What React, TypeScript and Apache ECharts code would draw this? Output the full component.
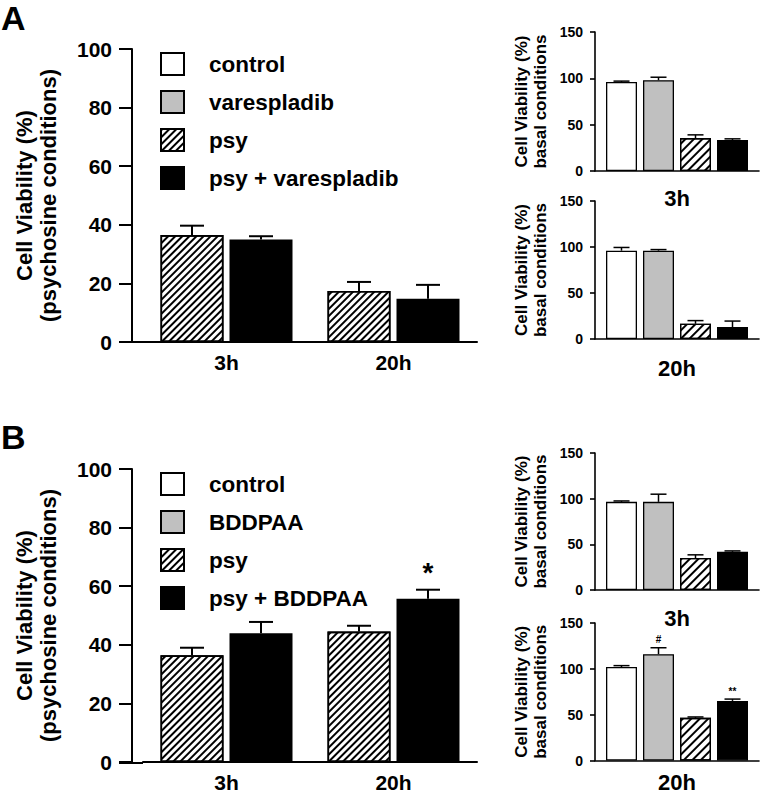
import React, { useEffect, useRef } from 'react';
import * as echarts from 'echarts';

// ---------- data ----------
const mainCategories = ['3h', '20h'];
const smallTopCategory = ['3h'];
const smallBottomCategory = ['20h'];

const legendA = ['control', 'varespladib', 'psy', 'psy + varespladib'];
const legendB = ['control', 'BDDPAA', 'psy', 'psy + BDDPAA'];

// Panel A – psychosine conditions (3h, 20h)
const aMainPsy = [36.5, 17.4];
const aMainPsyErr = [3.2, 3.1];
const aMainCombo = [35.0, 14.8];
const aMainComboErr = [1.1, 4.7];

// Panel A – basal conditions (control, varespladib, psy, psy + varespladib)
const aBasal3h = [96, 98, 35.5, 33.5];
const aBasal3hErr = [1, 3.2, 3.5, 1.2];
const aBasal20h = [96, 96, 16.5, 13];
const aBasal20hErr = [3.5, 1.2, 3.5, 6.5];

// Panel B – psychosine conditions (3h, 20h)
const bMainPsy = [36.4, 44.5];
const bMainPsyErr = [2.6, 2.0];
const bMainCombo = [43.9, 55.7];
const bMainComboErr = [3.9, 3.1];
const bMainComboMarks = ['', '*'];

// Panel B – basal conditions (control, BDDPAA, psy, psy + BDDPAA)
const bBasal3h = [96.5, 96.5, 35, 41.8];
const bBasal3hErr = [1, 8.4, 3.5, 1];
const bBasal20h = [102, 116, 46.5, 65];
const bBasal20hErr = [1.5, 7, 1, 2];
const bBasal20hMarks = ['', '#', '', '**'];

const mainTicks = { min: 0, max: 100, interval: 20 };
const smallTicks = { min: 0, max: 150, interval: 50 };

// ---------- styles ----------
const FONT = '"Liberation Sans", Arial, sans-serif';
const BLACK = '#000000';
const GRAY = '#c0c0c0';
const WHITE = '#ffffff';

const hatchMain = {
  symbol: 'rect',
  symbolSize: 1,
  dashArrayX: [1, 0],
  dashArrayY: [1.4, 3.0],
  rotation: -Math.PI / 4,
  color: BLACK,
};
const hatchSmall = {
  symbol: 'rect',
  symbolSize: 1,
  dashArrayX: [1, 0],
  dashArrayY: [1.8, 3.4],
  rotation: -Math.PI / 4,
  color: BLACK,
};

const MAIN_BAR_W = 63;
const MAIN_GAP = 6;
const SMALL_BAR_W = 31;
const SMALL_GAP = 6;

const styleFor = (kind: string, small: boolean) => {
  const base: any = { borderColor: BLACK, borderWidth: small ? 1.3 : 1.6 };
  if (kind === 'control') return { ...base, color: WHITE };
  if (kind === 'drug') return { ...base, color: GRAY };
  if (kind === 'psy') return { ...base, color: WHITE, decal: small ? hatchSmall : hatchMain };
  return { ...base, color: BLACK };
};

const axisText = (size: number) => ({
  fontSize: size,
  fontWeight: 'bold',
  color: BLACK,
  fontFamily: FONT,
});

function errorSeries(
  idx: number,
  rows: number[][], // [category, slot, value, err]
  nSlots: number,
  barW: number,
  gap: number,
  cap: number,
  lw: number,
  marks: string[],
  markSize: number,
  markGap: number
) {
  return {
    type: 'custom',
    xAxisIndex: idx,
    yAxisIndex: idx,
    silent: true,
    clip: false,
    z: 5,
    encode: { x: 0, y: 2 },
    data: rows,
    renderItem: (params: any, api: any) => {
      const cat = api.value(0);
      const slot = api.value(1);
      const v = api.value(2);
      const e = api.value(3);
      const b = api.coord([cat, v]);
      const t = api.coord([cat, v + e]);
      const x = b[0] + (slot - (nSlots - 1) / 2) * (barW + gap);
      const children: any[] = [
        { type: 'line', shape: { x1: x, y1: b[1], x2: x, y2: t[1] }, style: { stroke: BLACK, lineWidth: lw } },
        { type: 'line', shape: { x1: x - cap / 2, y1: t[1], x2: x + cap / 2, y2: t[1] }, style: { stroke: BLACK, lineWidth: lw } },
      ];
      const m = marks[params.dataIndex];
      if (m) {
        children.push({
          type: 'text',
          style: {
            text: m,
            x,
            y: t[1] - markGap,
            align: 'center',
            verticalAlign: 'bottom',
            fontSize: markSize,
            fontWeight: 'bold',
            fontFamily: FONT,
            fill: BLACK,
          },
        });
      }
      return { type: 'group', children };
    },
  };
}

function buildOption() {
  const grids: any[] = [];
  const xAxes: any[] = [];
  const yAxes: any[] = [];
  const series: any[] = [];

  const addMain = (
    top: number,
    names: string[],
    psy: number[],
    psyErr: number[],
    combo: number[],
    comboErr: number[],
    marks: string[]
  ) => {
    const idx = grids.length;
    grids.push({ left: 143, top, width: 334, height: 293 });
    xAxes.push({
      type: 'category',
      gridIndex: idx,
      data: mainCategories,
      axisLine: { lineStyle: { color: BLACK, width: 2 } },
      axisTick: { show: false },
      axisLabel: { ...axisText(21), margin: 10 },
    });
    yAxes.push({
      type: 'value',
      gridIndex: idx,
      ...mainTicks,
      offset: 11,
      splitLine: { show: false },
      axisLine: { show: true, lineStyle: { color: BLACK, width: 2 } },
      axisTick: { show: true, length: 13, lineStyle: { color: BLACK, width: 2 } },
      axisLabel: { ...axisText(21), margin: 20 },
      name: 'Cell Viability (%)\n(psychosine conditions)',
      nameLocation: 'middle',
      nameGap: 72,
      nameTextStyle: { ...axisText(22), lineHeight: 24 },
    });
    series.push({
      type: 'bar',
      name: names[2],
      xAxisIndex: idx,
      yAxisIndex: idx,
      data: psy,
      barWidth: MAIN_BAR_W,
      barGap: `${(MAIN_GAP / MAIN_BAR_W) * 100}%`,
      itemStyle: styleFor('psy', false),
    });
    series.push({
      type: 'bar',
      name: names[3],
      xAxisIndex: idx,
      yAxisIndex: idx,
      data: combo,
      barWidth: MAIN_BAR_W,
      barGap: `${(MAIN_GAP / MAIN_BAR_W) * 100}%`,
      itemStyle: styleFor('combo', false),
    });
    const rows: number[][] = [];
    const rowMarks: string[] = [];
    psy.forEach((v, i) => {
      rows.push([i, 0, v, psyErr[i]]);
      rowMarks.push('');
    });
    combo.forEach((v, i) => {
      rows.push([i, 1, v, comboErr[i]]);
      rowMarks.push(marks[i] || '');
    });
    series.push(errorSeries(idx, rows, 2, MAIN_BAR_W, MAIN_GAP, 24, 2, rowMarks, 28, 3));
  };

  const addSmall = (
    top: number,
    height: number,
    category: string[],
    labelMargin: number,
    names: string[],
    values: number[],
    errs: number[],
    marks: string[]
  ) => {
    const idx = grids.length;
    grids.push({ left: 595, top, width: 164, height });
    xAxes.push({
      type: 'category',
      gridIndex: idx,
      data: category,
      axisLine: { lineStyle: { color: BLACK, width: 1.6 } },
      axisTick: { show: false },
      axisLabel: { ...axisText(22), margin: labelMargin },
    });
    yAxes.push({
      type: 'value',
      gridIndex: idx,
      ...smallTicks,
      splitLine: { show: false },
      axisLine: { show: true, lineStyle: { color: BLACK, width: 1.6 } },
      axisTick: { show: true, length: 5, lineStyle: { color: BLACK, width: 1.6 } },
      axisLabel: { ...axisText(14), margin: 12 },
      name: 'Cell Viability (%)\nbasal conditions',
      nameLocation: 'middle',
      nameGap: 45,
      nameTextStyle: { ...axisText(17), lineHeight: 19 },
    });
    const kinds = ['control', 'drug', 'psy', 'combo'];
    names.forEach((n, k) => {
      series.push({
        type: 'bar',
        name: n,
        xAxisIndex: idx,
        yAxisIndex: idx,
        data: [values[k]],
        barWidth: SMALL_BAR_W,
        barGap: `${(SMALL_GAP / SMALL_BAR_W) * 100}%`,
        itemStyle: styleFor(kinds[k], true),
      });
    });
    const rows = values.map((v, k) => [0, k, v, errs[k]]);
    series.push(errorSeries(idx, rows, 4, SMALL_BAR_W, SMALL_GAP, 16, 1.5, marks, 10, 3));
  };

  addMain(49, legendA, aMainPsy, aMainPsyErr, aMainCombo, aMainComboErr, ['', '']);
  addSmall(32, 139, smallTopCategory, 16, legendA, aBasal3h, aBasal3hErr, ['', '', '', '']);
  addSmall(201, 138, smallBottomCategory, 18, legendA, aBasal20h, aBasal20hErr, ['', '', '', '']);
  addMain(469, legendB, bMainPsy, bMainPsyErr, bMainCombo, bMainComboErr, bMainComboMarks);
  addSmall(453, 137, smallTopCategory, 17, legendB, bBasal3h, bBasal3hErr, ['', '', '', '']);
  addSmall(623, 137.5, smallBottomCategory, 11, legendB, bBasal20h, bBasal20hErr, bBasal20hMarks);

  const legendBase = {
    orient: 'vertical',
    left: 160,
    padding: 0,
    itemWidth: 23,
    itemHeight: 22,
    itemGap: 14,
    icon: 'rect',
    selectedMode: false,
    textStyle: { ...axisText(22.5), lineHeight: 22, padding: [0, 0, 0, 20] },
  };

  return {
    animation: false,
    backgroundColor: WHITE,
    grid: grids,
    xAxis: xAxes,
    yAxis: yAxes,
    series,
    legend: [
      { ...legendBase, top: 52, data: legendA },
      { ...legendBase, top: 472, data: legendB },
    ],
    graphic: [
      { type: 'text', left: 1, top: 1, style: { text: 'A', font: `bold 34px ${FONT}`, fill: BLACK } },
      { type: 'text', left: 1, top: 420, style: { text: 'B', font: `bold 34px ${FONT}`, fill: BLACK } },
      { type: 'line', shape: { x1: 119, y1: 342, x2: 143, y2: 342 }, style: { stroke: BLACK, lineWidth: 2 } },
      { type: 'line', shape: { x1: 119, y1: 763, x2: 143, y2: 763 }, style: { stroke: BLACK, lineWidth: 2 } },
    ],
  };
}

export default function App() {
  const ref = useRef<HTMLDivElement>(null);
  useEffect(() => {
    document.body.style.margin = '0';
    if (!ref.current) return;
    const chart = echarts.init(ref.current, undefined, { renderer: 'svg' });
    chart.setOption(buildOption() as any);
    return () => chart.dispose();
  }, []);
  return <div ref={ref} style={{ width: 761, height: 794 }} />;
}
